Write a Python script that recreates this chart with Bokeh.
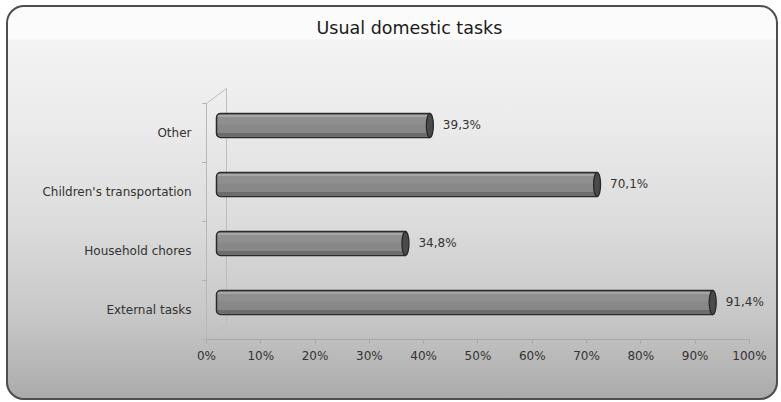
from bokeh.plotting import figure
from bokeh.models import Range1d, FixedTicker, ColumnDataSource
from bokeh.core.properties import value
from bokeh.embed import file_html
from bokeh.resources import INLINE

# ---------------- data ----------------
title_text = "Usual domestic tasks"
categories = ["External tasks", "Household chores", "Children's transportation", "Other"]
shares = [91.4, 34.8, 70.1, 39.3]
share_labels = ["91,4%", "34,8%", "70,1%", "39,3%"]
x_ticks = [0, 10, 20, 30, 40, 50, 60, 70, 80, 90, 100]
x_tick_labels = ["0%", "10%", "20%", "30%", "40%", "50%", "60%", "70%", "80%", "90%", "100%"]

# ---------------- geometry / style ----------------
W, H = 772, 395
B_LEFT, B_RIGHT, B_TOP, B_BOTTOM = 200, 9, 3, 61
frame_w = W - B_LEFT - B_RIGHT
frame_h = H - B_TOP - B_BOTTOM
X_END = 103.7
px_x = frame_w / X_END          # pixels per percent
px_y = 59.0                      # pixels per category slot
Y0 = -0.5
Y_END = Y0 + frame_h / px_y
depth_dx = 20 / px_x             # 3-D depth offset, converted to data units
depth_dy = 15 / px_y
mid_dx, mid_dy = depth_dx / 2, depth_dy / 2
bar_px = 24
bar_h = bar_px / px_y
title_y = Y0 + 312 / px_y        # title sits 312 px above the category axis floor

FONT = "DejaVu Sans"
TXT = "#333333"

idx = list(range(len(categories)))
src = ColumnDataSource(dict(
    y=[i + mid_dy for i in idx],
    left=[mid_dx] * len(idx),
    right=[v + mid_dx for v in shares],
    hi_y=[i + mid_dy + 9.5 / px_y for i in idx],
    up_y=[i + mid_dy + 5 / px_y for i in idx],
    lo_y=[i + mid_dy - 9 / px_y for i in idx],
    label=share_labels,
))

p = figure(width=W, height=H, margin=(5, 3, 2, 6),
           x_range=Range1d(0, X_END), y_range=Range1d(Y0, Y_END),
           output_backend="svg", toolbar_location=None,
           min_border_left=B_LEFT, min_border_right=B_RIGHT,
           min_border_top=B_TOP, min_border_bottom=B_BOTTOM,
           styles={
               "background": "linear-gradient(to bottom, #fbfbfb 0px, #fbfbfb 34px, #f3f3f3 35px, "
                             "#ebebeb 30%, #dcdcdc 55%, #c6c6c6 80%, #aaaaaa 100%)",
               "border-radius": "18px",
               "box-shadow": "inset 0 0 0 2px #4e4e4e",
           })
p.border_fill_color = None
p.background_fill_color = None
p.outline_line_color = None
p.grid.visible = False

# title
p.text(x=[0], y=[title_y], text=[title_text], x_offset=110,
       text_font=value(FONT), text_font_size="17.5px", text_color="#1a1a1a",
       text_align="left", text_baseline="middle")

# 3-D walls
p.segment(x0=[0, 0, depth_dx], y0=[3.5, -0.5, -0.5 + depth_dy],
          x1=[depth_dx, depth_dx, depth_dx], y1=[3.5 + depth_dy, -0.5 + depth_dy, 3.5 + depth_dy],
          line_color="#bdbdbd", line_width=1)

# bars (cylinder look)
p.hbar(y="y", left="left", right="right", height=bar_h, source=src,
       fill_color="#888888", line_color=None, border_radius=(4, 0, 0, 4))
p.hbar(y="up_y", left="left", right="right", height=8 / px_y, source=src,
       fill_color="#8f8f8f", line_color=None)
p.hbar(y="hi_y", left="left", right="right", height=2 / px_y, source=src,
       fill_color="#a6a6a6", line_color=None)
p.hbar(y="lo_y", left="left", right="right", height=3 / px_y, source=src,
       fill_color="#6c6c6c", line_color=None)
p.hbar(y="y", left="left", right="right", height=bar_h, source=src,
       fill_color=None, line_color="#2a2a2a", line_width=1.5, border_radius=(4, 0, 0, 4))
p.ellipse(x="right", y="y", width=7, height=bar_px, width_units="screen", height_units="screen",
          source=src, fill_color="#4a4a4a", line_color="#2a2a2a", line_width=1.3)

# value labels
p.text(x="right", y="y", text="label", source=src, x_offset=13, y_offset=-1,
       text_font=value(FONT), text_font_size="12px", text_color=TXT,
       text_align="left", text_baseline="middle")

# axes
xa = p.xaxis[0]
xa.ticker = FixedTicker(ticks=x_ticks)
xa.major_label_overrides = {t: l for t, l in zip(x_ticks, x_tick_labels)}
xa.bounds = (0, 100)
xa.axis_line_color = "#a8a8a8"
xa.major_tick_line_color = "#a8a8a8"
xa.major_tick_out = 4
xa.major_tick_in = 0
xa.minor_tick_line_color = None
xa.major_label_text_font = FONT
xa.major_label_text_font_size = "12px"
xa.major_label_text_color = TXT
xa.major_label_standoff = 5

ya = p.yaxis[0]
ya.ticker = FixedTicker(ticks=idx, minor_ticks=[i - 0.5 for i in idx] + [idx[-1] + 0.5])
ya.major_label_overrides = {i: c for i, c in zip(idx, categories)}
ya.bounds = (-0.5, 3.5)
ya.axis_line_color = "#b8b8b8"
ya.major_tick_out = 0
ya.major_tick_in = 0
ya.minor_tick_out = 4
ya.minor_tick_in = 0
ya.minor_tick_line_color = "#b0b0b0"
ya.major_label_text_font = FONT
ya.major_label_text_font_size = "12px"
ya.major_label_text_color = TXT
ya.major_label_standoff = 11

open("out.html", "w").write(file_html(p, INLINE))
